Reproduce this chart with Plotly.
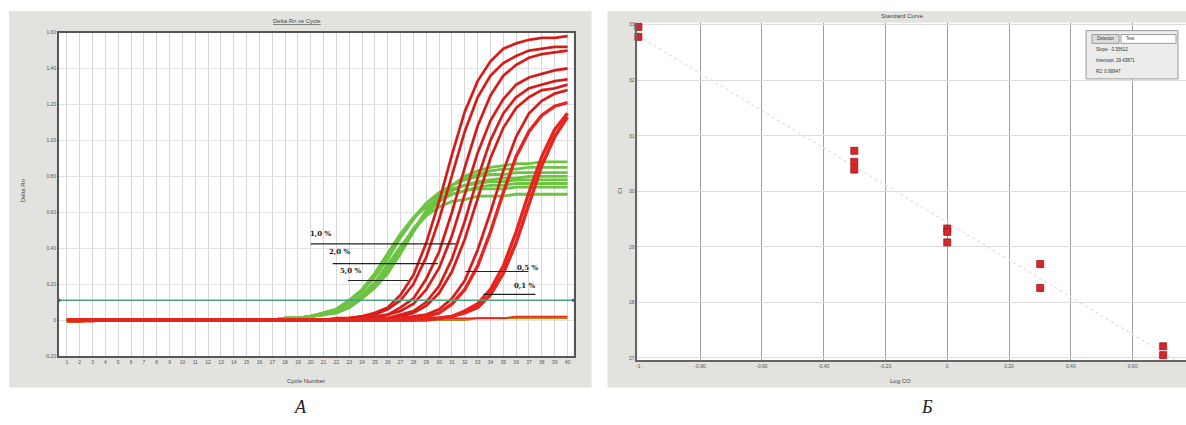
import plotly.graph_objects as go

# ---------------- data: panel A (Delta Rn vs Cycle) ----------------
cycles = list(range(1, 41))

green_1 = [0, 0, 0, 0, 0, 0, 0, 0, 0, 0,
           0, 0, 0, 0, 0, 0, 0, 0.01, 0.01, 0.02,
           0.03, 0.04, 0.07, 0.12, 0.18, 0.26, 0.37, 0.49, 0.60, 0.69,
           0.75, 0.80, 0.83, 0.85, 0.86, 0.87, 0.87, 0.88, 0.88, 0.88]
green_2 = [0, 0, 0, 0, 0, 0, 0, 0, 0, 0,
           0, 0, 0, 0, 0, 0, 0, 0.01, 0.01, 0.02,
           0.03, 0.05, 0.08, 0.12, 0.19, 0.28, 0.39, 0.50, 0.61, 0.69,
           0.75, 0.79, 0.81, 0.83, 0.84, 0.84, 0.85, 0.85, 0.85, 0.85]
green_3 = [0, 0, 0, 0, 0, 0, 0, 0, 0, 0,
           0, 0, 0, 0, 0, 0, 0, 0.01, 0.01, 0.02,
           0.04, 0.06, 0.10, 0.16, 0.24, 0.34, 0.46, 0.56, 0.65, 0.71,
           0.75, 0.78, 0.80, 0.81, 0.81, 0.82, 0.82, 0.82, 0.82, 0.82]
green_4 = [0, 0, 0, 0, 0, 0, 0, 0, 0, 0,
           0, 0, 0, 0, 0, 0, 0, 0.01, 0.01, 0.02,
           0.03, 0.04, 0.07, 0.12, 0.19, 0.28, 0.39, 0.50, 0.59, 0.67,
           0.72, 0.75, 0.77, 0.78, 0.79, 0.79, 0.80, 0.80, 0.80, 0.80]
green_5 = [0, 0, 0, 0, 0, 0, 0, 0, 0, 0,
           0, 0, 0, 0, 0, 0, 0, 0.01, 0.01, 0.02,
           0.04, 0.06, 0.11, 0.17, 0.26, 0.37, 0.48, 0.57, 0.65, 0.70,
           0.73, 0.75, 0.76, 0.77, 0.77, 0.78, 0.78, 0.78, 0.78, 0.78]
green_6 = [0, 0, 0, 0, 0, 0, 0, 0, 0, 0,
           0, 0, 0, 0, 0, 0, 0, 0.01, 0.01, 0.02,
           0.03, 0.05, 0.08, 0.13, 0.20, 0.29, 0.40, 0.51, 0.59, 0.66,
           0.70, 0.72, 0.74, 0.75, 0.75, 0.76, 0.76, 0.76, 0.76, 0.76]
green_7 = [0, 0, 0, 0, 0, 0, 0, 0, 0, 0,
           0, 0, 0, 0, 0, 0, 0, 0.01, 0.01, 0.02,
           0.04, 0.06, 0.11, 0.17, 0.26, 0.37, 0.48, 0.57, 0.63, 0.68,
           0.70, 0.72, 0.73, 0.73, 0.73, 0.74, 0.74, 0.74, 0.74, 0.74]
green_8 = [0, 0, 0, 0, 0, 0, 0, 0, 0, 0,
           0, 0, 0, 0, 0, 0, 0, 0, 0.01, 0.02,
           0.03, 0.05, 0.08, 0.14, 0.21, 0.31, 0.41, 0.50, 0.58, 0.63,
           0.66, 0.67, 0.69, 0.69, 0.69, 0.70, 0.70, 0.70, 0.70, 0.70]

red_1 = [0, 0, 0, 0, 0, 0, 0, 0, 0, 0,
         0, 0, 0, 0, 0, 0, 0, 0, 0, 0,
         0, 0.01, 0.01, 0.02, 0.04, 0.07, 0.14, 0.25, 0.43, 0.66,
         0.92, 1.16, 1.33, 1.44, 1.51, 1.54, 1.56, 1.57, 1.57, 1.58]
red_2 = [0, 0, 0, 0, 0, 0, 0, 0, 0, 0,
         0, 0, 0, 0, 0, 0, 0, 0, 0, 0,
         0, 0, 0.01, 0.02, 0.03, 0.06, 0.11, 0.20, 0.35, 0.56,
         0.81, 1.05, 1.24, 1.36, 1.43, 1.47, 1.50, 1.51, 1.52, 1.52]
red_3 = [0, 0, 0, 0, 0, 0, 0, 0, 0, 0,
         0, 0, 0, 0, 0, 0, 0, 0, 0, 0,
         0, 0, 0, 0.01, 0.02, 0.03, 0.07, 0.12, 0.23, 0.38,
         0.60, 0.85, 1.08, 1.25, 1.36, 1.42, 1.46, 1.48, 1.49, 1.50]
red_4 = [0, 0, 0, 0, 0, 0, 0, 0, 0, 0,
         0, 0, 0, 0, 0, 0, 0, 0, 0, 0,
         0, 0, 0, 0.01, 0.01, 0.03, 0.05, 0.09, 0.17, 0.29,
         0.47, 0.70, 0.93, 1.11, 1.23, 1.31, 1.35, 1.37, 1.39, 1.40]
red_5 = [0, 0, 0, 0, 0, 0, 0, 0, 0, 0,
         0, 0, 0, 0, 0, 0, 0, 0, 0, 0,
         0, 0, 0, 0, 0.01, 0.01, 0.03, 0.05, 0.10, 0.19,
         0.34, 0.55, 0.79, 1.00, 1.15, 1.24, 1.29, 1.31, 1.33, 1.34]
red_6 = [0, 0, 0, 0, 0, 0, 0, 0, 0, 0,
         0, 0, 0, 0, 0, 0, 0, 0, 0, 0,
         0, 0, 0, 0, 0, 0.01, 0.02, 0.04, 0.08, 0.15,
         0.27, 0.45, 0.68, 0.90, 1.07, 1.18, 1.24, 1.28, 1.29, 1.31]
red_7 = [0, 0, 0, 0, 0, 0, 0, 0, 0, 0,
         0, 0, 0, 0, 0, 0, 0, 0, 0, 0,
         0, 0, 0, 0, 0, 0, 0.01, 0.02, 0.03, 0.06,
         0.12, 0.22, 0.39, 0.60, 0.83, 1.02, 1.15, 1.22, 1.26, 1.28]
red_8 = [0, 0, 0, 0, 0, 0, 0, 0, 0, 0,
         0, 0, 0, 0, 0, 0, 0, 0, 0, 0,
         0, 0, 0, 0, 0, 0, 0.01, 0.01, 0.02, 0.04,
         0.09, 0.17, 0.30, 0.49, 0.71, 0.91, 1.05, 1.14, 1.19, 1.21]
red_9 = [0, 0, 0, 0, 0, 0, 0, 0, 0, 0,
         0, 0, 0, 0, 0, 0, 0, 0, 0, 0,
         0, 0, 0, 0, 0, 0, 0, 0, 0.01, 0.01,
         0.02, 0.05, 0.09, 0.17, 0.30, 0.49, 0.71, 0.91, 1.06, 1.15]
red_10 = [0, 0, 0, 0, 0, 0, 0, 0, 0, 0,
          0, 0, 0, 0, 0, 0, 0, 0, 0, 0,
          0, 0, 0, 0, 0, 0, 0, 0, 0, 0.01,
          0.02, 0.04, 0.07, 0.14, 0.26, 0.43, 0.65, 0.86, 1.02, 1.13]

ntc_red = [-0.01, -0.01, -0.01, 0, 0, 0, 0, 0, 0, 0,
           0, 0, 0, 0, 0, 0, 0, 0, 0, 0,
           0, 0, 0, 0, 0, 0, 0, 0.01, 0.01, 0.01,
           0.01, 0.01, 0.01, 0.01, 0.01, 0.02, 0.02, 0.02, 0.02, 0.02]
ntc_olive = [-0.01, -0.01, 0, 0, 0, 0, 0, 0, 0, 0,
             0, 0, 0, 0, 0, 0, 0, 0, 0, 0,
             0, 0, 0, 0, 0, 0, 0, 0, 0, 0,
             0, 0, 0.01, 0.01, 0.01, 0.01, 0.01, 0.01, 0.01, 0.01]

threshold = 0.11
y_ticks_a = [-0.2, 0, 0.2, 0.4, 0.6, 0.8, 1.0, 1.2, 1.4, 1.6]
y_ticktext_a = ["-0.20", "0", "0.20", "0.40", "0.60", "0.80", "1.00", "1.20", "1.40", "1.60"]

pct_labels = ["1,0 %", "2,0 %", "5,0 %", "0,5 %", "0,1 %"]

# ---------------- data: panel Б (Standard Curve) ----------------
log_co = [-1, -1, -0.301, -0.301, -0.301, 0, 0, 0, 0.301, 0.301, 0.699, 0.699]
ct = [32.96, 32.78, 30.73, 30.53, 30.39, 29.33, 29.27, 29.08, 28.69, 28.26, 27.21, 27.05]
x_ticks_b = [-1, -0.8, -0.6, -0.4, -0.2, 0, 0.2, 0.4, 0.6]
x_ticktext_b = ["-1", "-0.80", "-0.60", "-0.40", "-0.20", "0", "0.20", "0.40", "0.60"]
y_ticks_b = [27, 28, 29, 30, 31, 32, 33]
slope = -3.35612
intercept = 29.43871
r2 = 0.98947
fit_x = [-1.0, 0.773]

# ---------------- figure ----------------
W, H = 1186, 425
def px(x):
    return x / W
def py(y):
    return 1 - y / H

GREEN = "#6cc443"
RED = "#e8241f"
DARK = "#7a1a1c"

fig = go.Figure()

for g in [green_1, green_2, green_3, green_4, green_5, green_6, green_7, green_8]:
    fig.add_trace(go.Scatter(x=cycles, y=g, mode="lines",
                             line=dict(color=GREEN, width=2.8), hoverinfo="skip",
                             xaxis="x", yaxis="y", showlegend=False))

fig.add_trace(go.Scatter(x=cycles, y=ntc_olive, mode="lines",
                         line=dict(color="#a8891e", width=2.2), xaxis="x", yaxis="y",
                         showlegend=False))
fig.add_trace(go.Scatter(x=cycles, y=ntc_red, mode="lines",
                         line=dict(color=RED, width=1.6), xaxis="x", yaxis="y",
                         showlegend=False))

reds = [red_1, red_2, red_3, red_4, red_5, red_6, red_7, red_8, red_9, red_10]
for i, r in enumerate(reds):
    thick = i >= 7
    fig.add_trace(go.Scatter(x=cycles, y=r, mode="lines",
                             line=dict(color=RED, width=3.4 if thick else 2.8),
                             xaxis="x", yaxis="y", showlegend=False))
    if not thick:
        fig.add_trace(go.Scatter(x=cycles, y=r, mode="lines",
                                 line=dict(color=DARK, width=0.5),
                                 xaxis="x", yaxis="y", showlegend=False))

# threshold line
fig.add_trace(go.Scatter(x=[0.38, 40.47], y=[threshold, threshold], mode="lines+markers",
                         line=dict(color="#4aa37c", width=1.4),
                         marker=dict(color="#2a6fb0", size=3, symbol="square"),
                         cliponaxis=False, xaxis="x", yaxis="y", showlegend=False))

# standard curve
fig.add_trace(go.Scatter(x=fit_x, y=[intercept + slope * v for v in fit_x], mode="lines",
                         line=dict(color="#ece2e2", width=1.6, dash="dot"),
                         xaxis="x2", yaxis="y2", showlegend=False))
fig.add_trace(go.Scatter(x=log_co, y=ct, mode="markers",
                         marker=dict(color="#d8262a", size=7, symbol="square",
                                     line=dict(color="#9a1418", width=0.8)),
                         cliponaxis=False, xaxis="x2", yaxis="y2", showlegend=False))

tickfont = dict(family="Arial, Liberation Sans, sans-serif", size=5, color="#555")

shapes = [
    dict(type="rect", xref="paper", yref="paper", x0=px(8), x1=px(591), y0=py(390), y1=py(8),
         fillcolor="#e2e2de", line=dict(width=0), layer="below"),
    dict(type="rect", xref="paper", yref="paper", x0=px(607), x1=1, y0=py(390), y1=py(8),
         fillcolor="#e2e2de", line=dict(width=0), layer="below"),
    dict(type="rect", xref="paper", yref="paper", x0=px(58), x1=px(573), y0=py(358), y1=py(30),
         fillcolor="white", line=dict(width=0), layer="below"),
    dict(type="rect", xref="paper", yref="paper", x0=px(637), x1=1, y0=py(362), y1=py(20),
         fillcolor="white", line=dict(width=0), layer="below"),
]

# black marker lines for each concentration group (cycle from, cycle to, Delta Rn)
marker_lines = [(20.0, 31.3, 0.424), (21.7, 29.9, 0.314), (22.9, 27.6, 0.22),
                (32.05, 36.95, 0.27), (33.45, 37.5, 0.143)]
label_pos = [(20.8, 0.479), (22.3, 0.38), (23.1, 0.275), (36.9, 0.29), (36.7, 0.193)]
for (x0, x1, yv) in marker_lines:
    shapes.append(dict(type="line", xref="x", yref="y", x0=x0, x1=x1, y0=yv, y1=yv,
                       line=dict(color="#222", width=1.2)))

# legend box in standard curve panel
shapes += [
    dict(type="rect", xref="paper", yref="paper", x0=px(1086), x1=px(1178), y0=py(77), y1=py(28),
         fillcolor="#ececea", line=dict(color="#9a9a9a", width=1)),
    dict(type="rect", xref="paper", yref="paper", x0=px(1092), x1=px(1119), y0=py(41), y1=py(32),
         fillcolor="#dcdcdc", line=dict(color="#888", width=0.8)),
    dict(type="rect", xref="paper", yref="paper", x0=px(1121), x1=px(1176), y0=py(41), y1=py(32),
         fillcolor="white", line=dict(color="#888", width=0.8)),
]

annotations = []
for text, (xl, yl) in zip(pct_labels, label_pos):
    annotations.append(dict(x=xl, y=yl, xref="x", yref="y", text="<b>" + text + "</b>",
                            xanchor="center", yanchor="middle",
                            showarrow=False, font=dict(family="DejaVu Serif", size=7, color="#222")))

small = dict(family="Arial, Liberation Sans, sans-serif", size=6, color="#444")
tiny = dict(family="Arial, Liberation Sans, sans-serif", size=4.5, color="#333")
serif_big = dict(family="Liberation Serif, DejaVu Serif, serif", size=18, color="#222")
paper_texts = [
    (296, 18, "<u>Delta Rn vs Cycle</u>", small, 0, "center"),
    (22, 190, "Delta Rn", small, -90, "center"),
    (305, 383, "Cycle Number", small, 0, "center"),
    (902, 13, "Standard Curve", small, 0, "center"),
    (620, 190, "Ct", small, -90, "center"),
    (900, 383, "Log CO", small, 0, "center"),
    (1105.5, 36.5, "Detector", tiny, 0, "center"),
    (1124, 36.5, "Test", tiny, 0, "left"),
    (1094, 47, "Slope: %.5f" % slope, tiny, 0, "left"),
    (1094, 58, "Intercept: %.5f" % intercept, tiny, 0, "left"),
    (1094, 69, "R2: %.5f" % r2, tiny, 0, "left"),
    (300, 410, "<i>А</i>", serif_big, 0, "center"),
    (927, 410, "<i>Б</i>", serif_big, 0, "center"),
]
for (xp, yp, text, font, ang, xa) in paper_texts:
    annotations.append(dict(x=px(xp), y=py(yp), xref="paper", yref="paper", text=text,
                            textangle=ang, xanchor=xa, yanchor="middle",
                            showarrow=False, font=font))

fig.update_layout(
    width=W, height=H, autosize=False,
    margin=dict(l=0, r=0, t=0, b=0),
    paper_bgcolor="white", plot_bgcolor="rgba(0,0,0,0)",
    showlegend=False,
    xaxis=dict(domain=[px(58), px(573)], range=[0.38, 40.47], tickvals=cycles,
               ticktext=[str(c) for c in cycles], tickfont=tickfont, ticks="",
               showgrid=True, gridcolor="#d6d6d6", gridwidth=1, zeroline=False,
               showline=True, linecolor="#555", linewidth=1.5, mirror=True, anchor="y"),
    yaxis=dict(domain=[py(358), py(30)], range=[-0.2, 1.6], tickvals=y_ticks_a,
               ticktext=y_ticktext_a, tickfont=tickfont, ticks="",
               showgrid=True, gridcolor="#e2e2e2", gridwidth=1, zeroline=False,
               showline=True, linecolor="#555", linewidth=1.5, mirror=True, anchor="x"),
    xaxis2=dict(domain=[px(637), 1.0], range=[-1.003, 0.773], tickvals=x_ticks_b,
                ticktext=x_ticktext_b, tickfont=tickfont, ticks="",
                showgrid=True, gridcolor="#a0a0a0", gridwidth=1, zeroline=False,
                showline=True, linecolor="#666", linewidth=2, anchor="y2"),
    yaxis2=dict(domain=[py(362), py(20)], range=[26.965, 33.035], tickvals=y_ticks_b,
                tickfont=tickfont, ticks="",
                showgrid=True, gridcolor="#dcdcdc", gridwidth=1, zeroline=False,
                showline=True, linecolor="#666", linewidth=2, anchor="x2"),
    shapes=shapes,
    annotations=annotations,
)

fig.write_html("out.html", config={"displayModeBar": False},
               post_script="document.body.style.margin='0';document.body.style.overflow='hidden';")
